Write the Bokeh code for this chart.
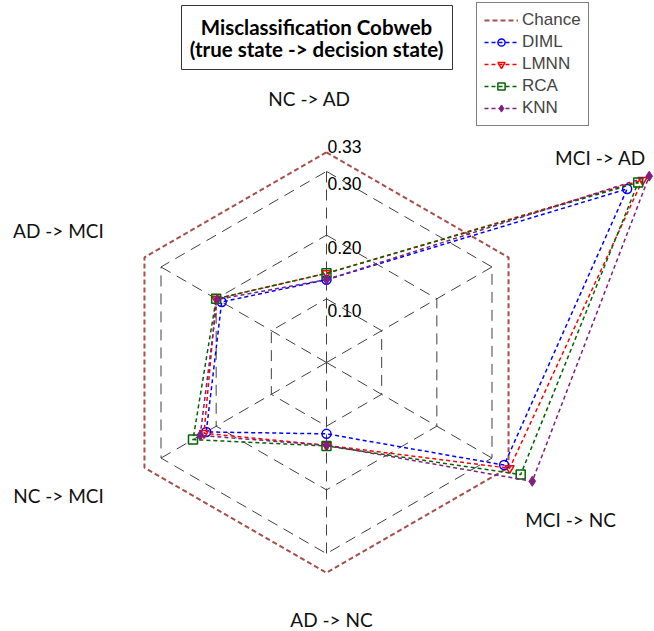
import numpy as np
from bokeh.plotting import figure
from bokeh.models import Range1d, Legend, LegendItem
from bokeh.core.properties import value
from bokeh.embed import file_html
from bokeh.resources import INLINE

# ---------------- data ----------------
axes_labels = ["NC -> AD", "MCI -> AD", "MCI -> NC", "AD -> NC", "NC -> MCI", "AD -> MCI"]
chance = [0.33, 0.33, 0.33, 0.33, 0.33, 0.33]
diml = [0.13, 0.545, 0.322, 0.112, 0.218, 0.19]
lmnn = [0.14, 0.573, 0.332, 0.13, 0.222, 0.20]
rca = [0.14, 0.565, 0.352, 0.131, 0.242, 0.20]
knn = [0.13, 0.585, 0.373, 0.13, 0.229, 0.198]
ring_values = [0.10, 0.20, 0.30]
tick_labels = ["0.10", "0.20", "0.30", "0.33"]
tick_values = [0.10, 0.20, 0.30, 0.33]

# ---------------- geometry ----------------
S = 637.0              # pixels per unit of radius
CX, CY = 326.0, 362.0  # centre in picture pixels
W, H = 654, 631
TDY = 7.0              # text rendering offset correction (px)

def px(X, Y):
    """picture pixel -> data coordinates"""
    return (X - CX) / S, (CY - Y) / S

angles = np.deg2rad([90, 30, -30, -90, -150, 150])

def polar(vals):
    v = np.asarray(vals, dtype=float)
    return list(v * np.cos(angles)), list(v * np.sin(angles))

x0, y1 = px(0, 0)
x1, y0 = px(W, H)

p = figure(width=W, height=H, output_backend="svg", toolbar_location=None,
           x_range=Range1d(x0, x1), y_range=Range1d(y0, y1),
           min_border=0, background_fill_color="white", border_fill_color="white")
p.axis.visible = False
p.grid.visible = False
p.outline_line_color = None

grid_col = "#404040"
# rings
for rv in ring_values:
    xs, ys = polar([rv] * 6)
    p.line(xs + [xs[0]], ys + [ys[0]], line_color=grid_col, line_width=1, line_dash="11 7")
# spokes
for a in angles:
    p.line([0, 0.30 * np.cos(a)], [0, 0.30 * np.sin(a)], line_color=grid_col,
           line_width=1, line_dash="11 7")

# tick labels
for tv, tl in zip(tick_values, tick_labels):
    off = 1 if tl == "0.33" else 19
    p.text([1 / S], [tv - (off - TDY) / S], text=[tl], text_font=value("Liberation Sans"),
           text_font_size="17.5px", text_color="black", text_baseline="alphabetic",
           text_align="left")

# axis labels (picture-pixel placements, baseline)
label_pos = [(309, 105), (600, 164), (570, 526), (331, 626), (58, 502), (58, 237)]
for lab, (X, Y) in zip(axes_labels, label_pos):
    dx, dy = px(X, Y - TDY)
    p.text([dx], [dy], text=[lab], text_font=value("Lato"), text_font_size="19px",
           text_color="#111111", text_align="center", text_baseline="alphabetic")

series = [
    ("Chance", chance, "#A5504C", None, "5 3", 2),
    ("DIML", diml, "#0000FF", "circle", "4 3", 1.5),
    ("LMNN", lmnn, "#FF0000", "inverted_triangle", "4 3", 1.5),
    ("RCA", rca, "#006400", "square", "4 3", 1.5),
    ("KNN", knn, "#7F1F7F", "diamond", "4 3", 1.5),
]

items = []
for name, vals, col, marker, dash, lw in series:
    xs, ys = polar(vals)
    rl = p.line(xs + [xs[0]], ys + [ys[0]], line_color=col, line_width=lw, line_dash=dash)
    rs = [rl]
    if marker is not None:
        if marker == "diamond":
            sc = p.scatter(xs, ys, marker=marker, size=10, line_color=col, fill_color=col)
        else:
            sc = p.scatter(xs, ys, marker=marker, size=9, line_color=col, line_width=1.5,
                           fill_color=None)
        rs.append(sc)
    items.append(LegendItem(label=name, renderers=rs))

legend = Legend(items=items, location=(476, H - 5 - 121), orientation="vertical",
                label_text_font="Liberation Sans", label_text_font_size="17px",
                glyph_width=34, glyph_height=18, label_height=18, spacing=2,
                padding=7, margin=0, label_standoff=4,
                border_line_color="black", border_line_width=1,
                background_fill_color="white", background_fill_alpha=1)
p.add_layout(legend)

# title box
bx0, by0 = px(181, 5)
bx1, by1 = px(452, 69)
p.quad(left=[bx0], right=[bx1], top=[by0], bottom=[by1], fill_color="white",
       line_color="#333333", line_width=1)
t1x, t1y = px(316, 33 - TDY)
t2x, t2y = px(316, 55 - TDY)
p.text([t1x], [t1y], text=["Misclassification Cobweb"], text_font=value("Lato"),
       text_font_style="bold", text_font_size="20.5px", text_align="center",
       text_baseline="alphabetic", text_color="black")
p.text([t2x], [t2y], text=["(true state -> decision state)"], text_font=value("Lato"),
       text_font_style="bold", text_font_size="20.5px", text_align="center",
       text_baseline="alphabetic", text_color="black")

open("out.html", "w").write(file_html(p, INLINE))
